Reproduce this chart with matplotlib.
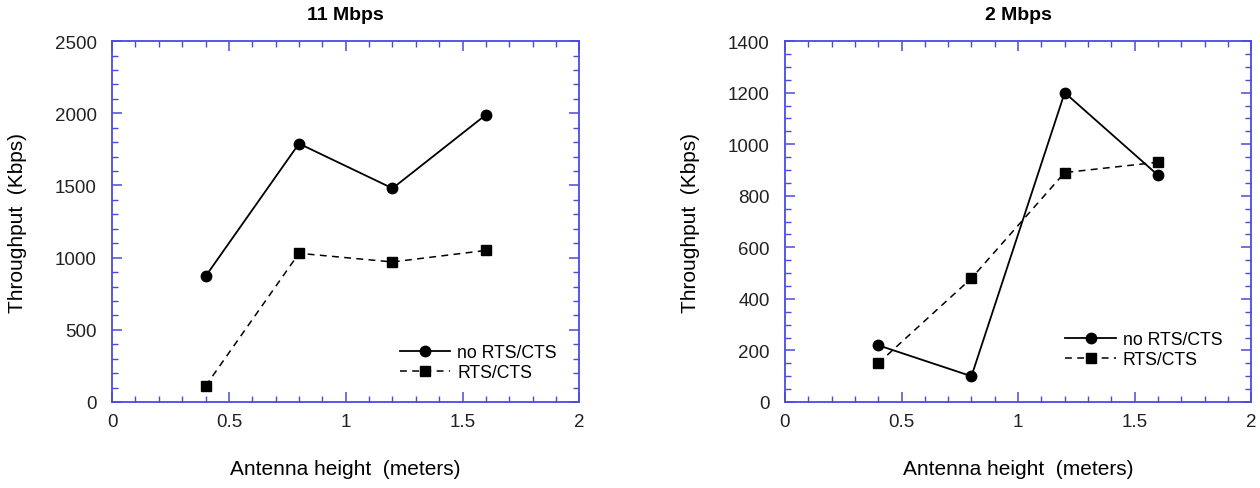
import matplotlib.pyplot as plt
from matplotlib.ticker import MultipleLocator

plt.rcParams['font.family'] = ['Liberation Sans', 'DejaVu Sans']

heights = [0.4, 0.8, 1.2, 1.6]

# 11 Mbps
no_rts_11 = [870, 1790, 1480, 1990]
rts_11 = [110, 1030, 970, 1050]

# 2 Mbps
no_rts_2 = [220, 100, 1200, 880]
rts_2 = [150, 480, 890, 930]

blue = '#4a4ae0'

fig = plt.figure(figsize=(12.6, 4.89), dpi=100)
ax1 = fig.add_axes([0.0889, 0.1759, 0.3710, 0.738])
ax2 = fig.add_axes([0.6230, 0.1759, 0.3700, 0.738])

def style(ax, title, ymax, ymajor, yminor):
    ax.set_xlim(0, 2)
    ax.set_ylim(0, ymax)
    ax.xaxis.set_major_locator(MultipleLocator(0.5))
    ax.xaxis.set_minor_locator(MultipleLocator(0.1))
    ax.yaxis.set_major_locator(MultipleLocator(ymajor))
    ax.yaxis.set_minor_locator(MultipleLocator(yminor))
    ax.xaxis.set_major_formatter(plt.FuncFormatter(lambda v, p: f"{v:g}"))
    for s in ax.spines.values():
        s.set_color(blue)
        s.set_linewidth(1.3)
    ax.tick_params(which='both', direction='in', top=True, right=True,
                   color=blue, labelsize=13.5, labelcolor='#222222')
    ax.tick_params(which='major', length=7, width=1.1)
    ax.tick_params(which='minor', length=4, width=1.0)
    ax.tick_params(axis='x', which='major', pad=8)
    ax.tick_params(axis='y', which='major', pad=11)
    ax.set_title(title, fontsize=14, fontweight='bold', pad=16)
    ax.set_xlabel("Antenna height  (meters)", fontsize=15, labelpad=21)
    ax.set_ylabel("Throughput  (Kbps)", fontsize=15, labelpad=20)

legend_pos = {ax1: (0.951, 0.058), ax2: (0.938, 0.094)}

for ax, a, b in [(ax1, no_rts_11, rts_11), (ax2, no_rts_2, rts_2)]:
    ax.plot(heights, a, '-', color='black', lw=1.3, marker='o', ms=7.5, label='no RTS/CTS')
    ax.plot(heights, b, '--', color='black', lw=1.1, marker='s', ms=7.5, label='RTS/CTS',
            dashes=(4.5, 3.5))
    ax.legend(loc='lower right', bbox_to_anchor=legend_pos[ax], frameon=False,
              borderpad=0, borderaxespad=0, fontsize=12.7, handlelength=2.85,
              handletextpad=0.4, labelspacing=0.16)

style(ax1, "11 Mbps", 2500, 500, 100)
style(ax2, "2 Mbps", 1400, 200, 50)

fig.savefig('out.png', dpi=100)
